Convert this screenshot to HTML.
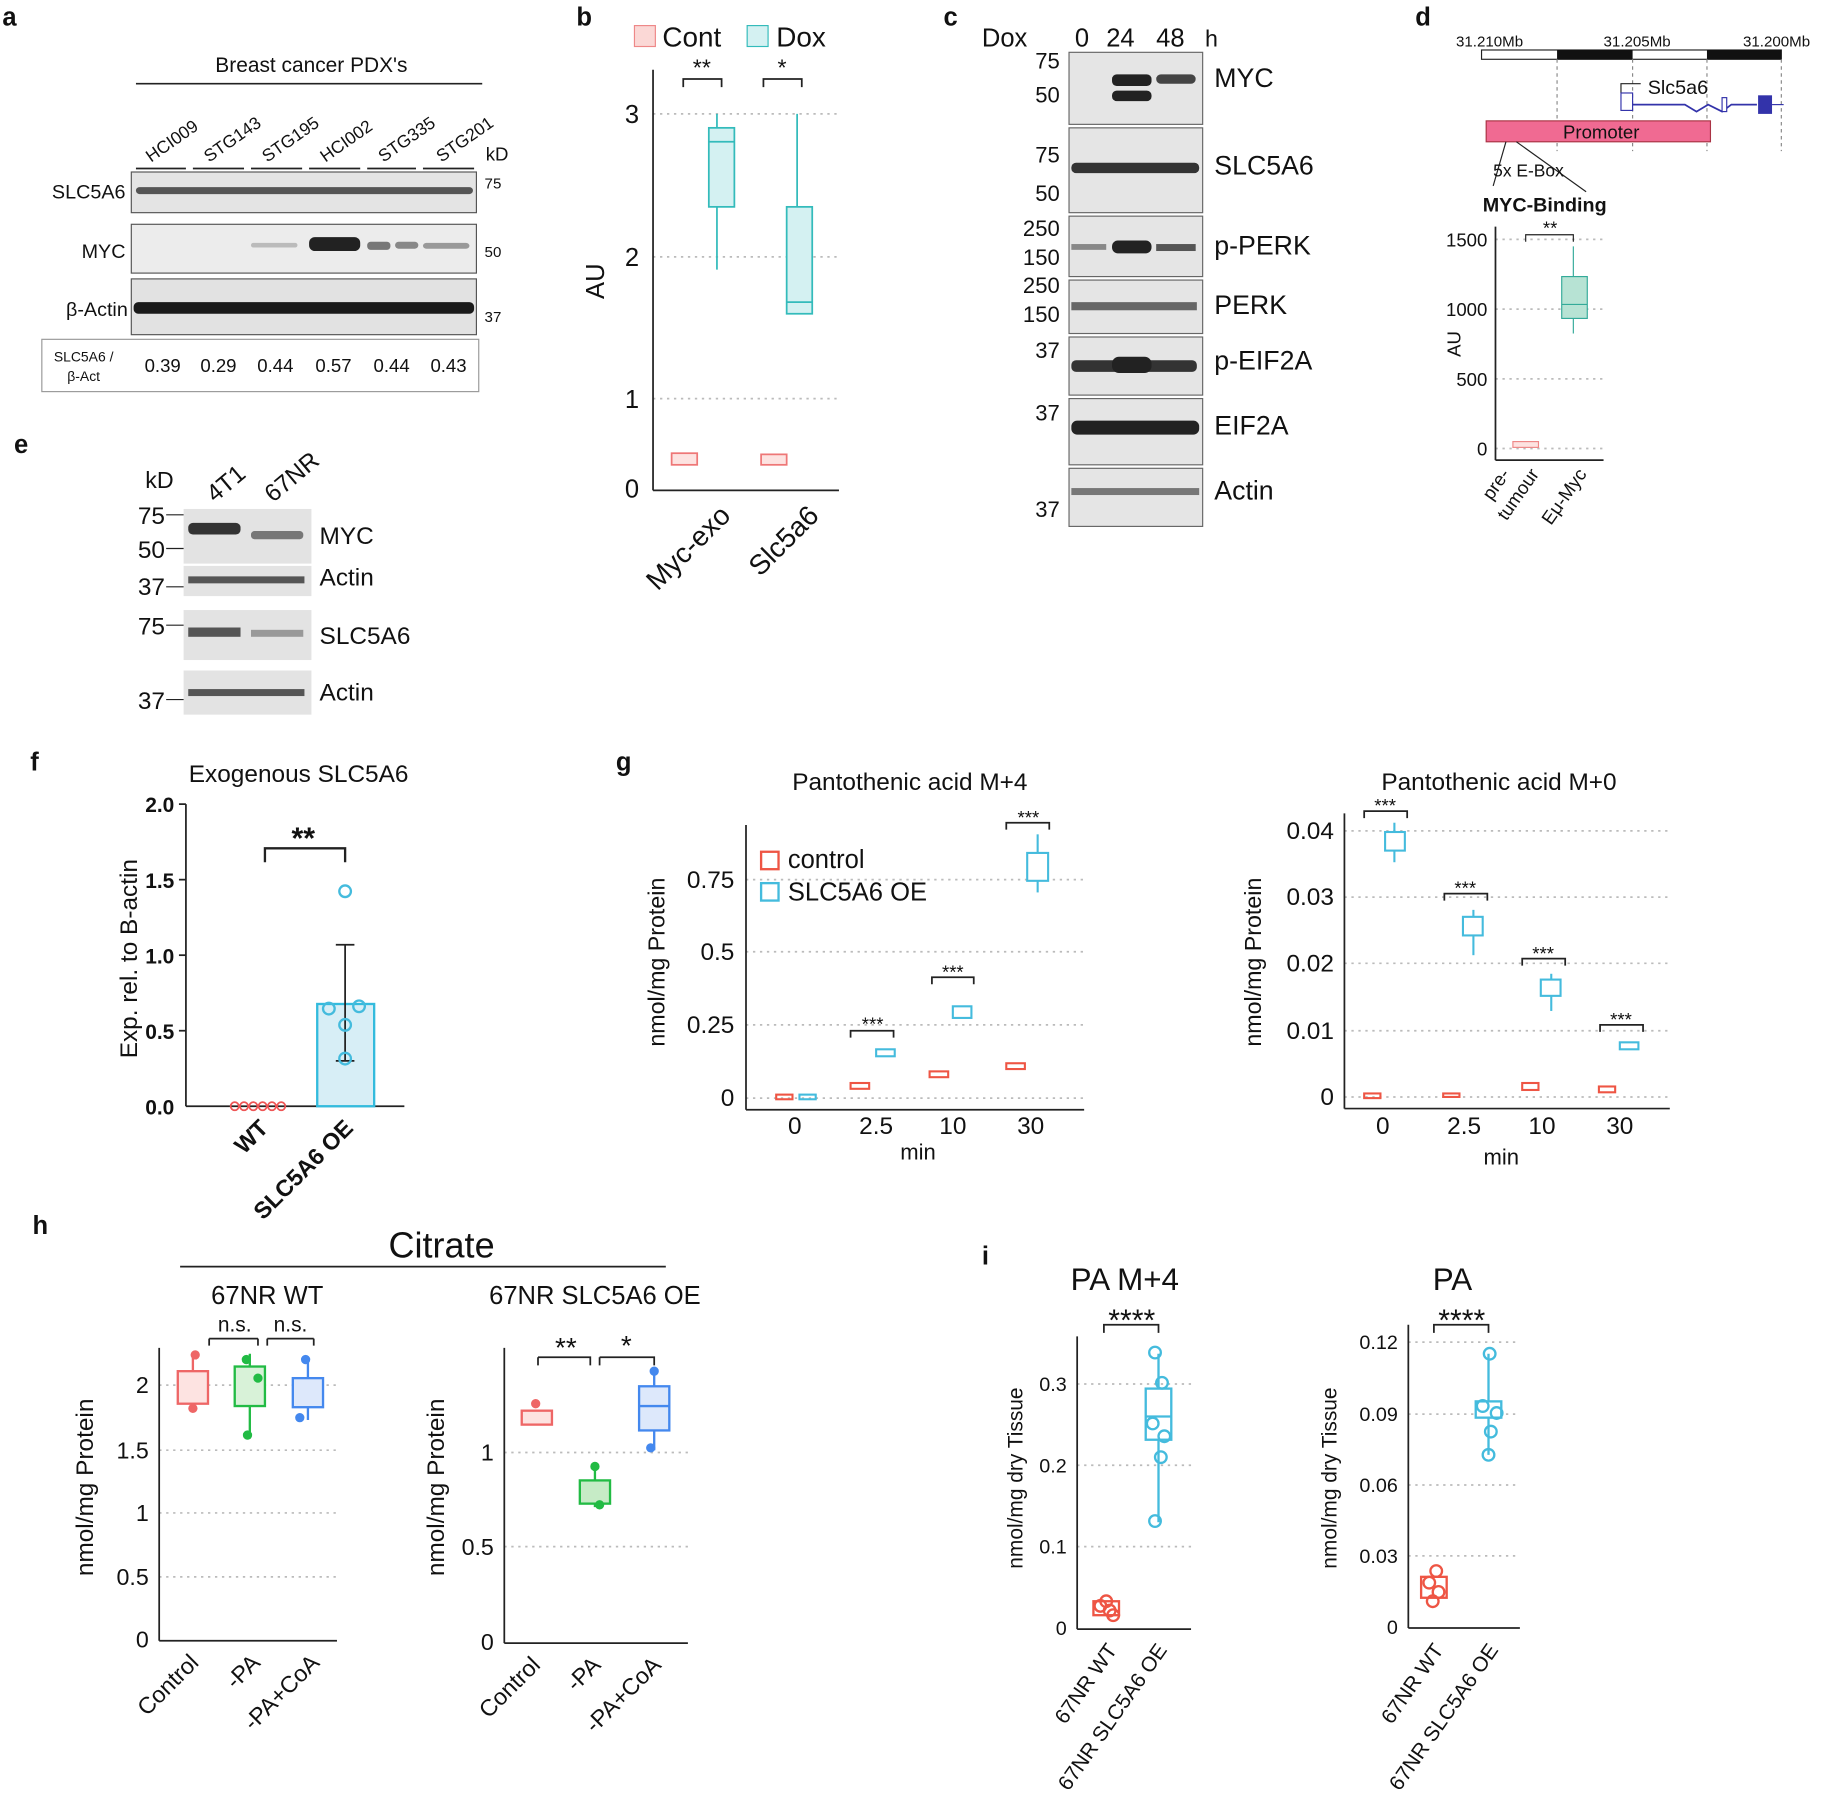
<!DOCTYPE html>
<html><head><meta charset="utf-8"><style>
html,body{margin:0;padding:0;background:#fff}
svg{display:block}
text{font-family:"Liberation Sans",sans-serif;fill:#111}
.g{stroke:#bbb;stroke-dasharray:2 4;stroke-width:1.5}
.ax{stroke:#222;stroke-width:1.5;fill:none}
</style></head><body>
<svg width="1822" height="1793" viewBox="0 0 1568 1543" xmlns="http://www.w3.org/2000/svg">
<defs>
<linearGradient id="bl" x1="0" y1="0" x2="0" y2="1"><stop offset="0" stop-color="#e6e6e6"/><stop offset="1" stop-color="#d8d8d8"/></linearGradient>
</defs>
<g font-weight="bold" font-size="22">
<text x="2" y="22">a</text><text x="496" y="22">b</text><text x="812" y="22">c</text><text x="1218" y="22">d</text>
<text x="12" y="390">e</text><text x="26" y="663">f</text><text x="530" y="663">g</text><text x="28" y="1062">h</text><text x="845" y="1088">i</text>
</g>
<!-- a -->
<text x="268" y="62" font-size="18" text-anchor="middle">Breast cancer PDX's</text>
<line x1="117" y1="72" x2="415" y2="72" class="ax"/>
<g font-size="15">
<text transform="translate(130,140) rotate(-35)">HCI009</text><text transform="translate(180,140) rotate(-35)">STG143</text>
<text transform="translate(230,140) rotate(-35)">STG195</text><text transform="translate(280,140) rotate(-35)">HCI002</text>
<text transform="translate(330,140) rotate(-35)">STG335</text><text transform="translate(380,140) rotate(-35)">STG201</text>
</g>
<g stroke="#222" stroke-width="1.5"><line x1="117" y1="145" x2="160" y2="145"/><line x1="166" y1="145" x2="210" y2="145"/><line x1="216" y1="145" x2="260" y2="145"/><line x1="266" y1="145" x2="310" y2="145"/><line x1="316" y1="145" x2="358" y2="145"/><line x1="364" y1="145" x2="408" y2="145"/></g>
<text x="418" y="138" font-size="16">kD</text>
<rect x="113" y="148" width="297" height="35" fill="#e4e4e4" stroke="#555"/>
<rect x="113" y="193" width="297" height="42" fill="#ececec" stroke="#555"/>
<rect x="113" y="240" width="297" height="48" fill="#e2e2e2" stroke="#555"/>
<g fill="#555"><rect x="117" y="161" width="290" height="6" rx="3"/></g>
<g fill="#222"><rect x="266" y="204" width="44" height="12" rx="5"/><rect x="316" y="208" width="20" height="7" rx="3" fill="#777"/><rect x="340" y="208" width="20" height="6" rx="3" fill="#888"/><rect x="364" y="209" width="40" height="5" rx="3" fill="#999"/><rect x="216" y="209" width="40" height="4" rx="2" fill="#bbb"/></g>
<rect x="115" y="260" width="293" height="10" rx="4" fill="#1a1a1a"/>
<g font-size="17" text-anchor="end"><text x="108" y="171">SLC5A6</text><text x="108" y="222">MYC</text><text x="110" y="272">β-Actin</text></g>
<g font-size="13"><text x="417" y="162">75</text><text x="417" y="221">50</text><text x="417" y="277">37</text></g>
<rect x="36" y="292" width="376" height="45" fill="none" stroke="#999"/>
<text x="72" y="311" font-size="12" text-anchor="middle">SLC5A6 /</text><text x="72" y="328" font-size="12" text-anchor="middle">β-Act</text>
<g font-size="16" text-anchor="middle"><text x="140" y="320">0.39</text><text x="188" y="320">0.29</text><text x="237" y="320">0.44</text><text x="287" y="320">0.57</text><text x="337" y="320">0.44</text><text x="386" y="320">0.43</text></g>
<!-- b -->
<rect x="546" y="22" width="18" height="18" fill="#fbd8d6" stroke="#e88"/><text x="570" y="40" font-size="24">Cont</text>
<rect x="643" y="22" width="18" height="18" fill="#d4f1f2" stroke="#3bb"/><text x="668" y="40" font-size="24">Dox</text>
<g class="g"><line x1="562" y1="98" x2="722" y2="98"/><line x1="562" y1="221" x2="722" y2="221"/><line x1="562" y1="343" x2="722" y2="343"/></g>
<line x1="562" y1="60" x2="562" y2="422" class="ax"/><line x1="562" y1="422" x2="722" y2="422" class="ax"/>
<g font-size="22" text-anchor="end"><text x="550" y="106">3</text><text x="550" y="229">2</text><text x="550" y="351">1</text><text x="550" y="428">0</text></g>
<text transform="translate(520,242) rotate(-90)" font-size="22" text-anchor="middle">AU</text>
<g stroke="#e77" fill="#fde3e1" stroke-width="1.5"><rect x="578" y="390" width="22" height="10"/><rect x="655" y="391" width="22" height="9"/></g>
<g stroke="#3bb" fill="#d4f1f2" stroke-width="1.5"><line x1="617" y1="98" x2="617" y2="232"/><rect x="610" y="110" width="22" height="68"/><line x1="610" y1="122" x2="632" y2="122"/>
<line x1="686" y1="98" x2="686" y2="270"/><rect x="677" y="178" width="22" height="92"/><line x1="677" y1="260" x2="699" y2="260"/></g>
<g stroke="#222" stroke-width="1.5" fill="none"><path d="M588 75V68H621V75"/><path d="M657 75V68H690V75"/></g>
<text x="604" y="65" font-size="20" text-anchor="middle">**</text><text x="673" y="65" font-size="20" text-anchor="middle">*</text>
<g font-size="24" text-anchor="end"><text transform="translate(630,445) rotate(-45)">Myc-exo</text><text transform="translate(706,445) rotate(-45)">Slc5a6</text></g>
<!-- c -->
<text x="845" y="40" font-size="22">Dox</text><text x="925" y="40" font-size="22">0</text><text x="952" y="40" font-size="22">24</text><text x="995" y="40" font-size="22">48</text><text x="1037" y="40" font-size="20">h</text>
<g fill="#e5e5e5" stroke="#666">
<rect x="920" y="45" width="115" height="62"/><rect x="920" y="110" width="115" height="73"/><rect x="920" y="186" width="115" height="52"/><rect x="920" y="241" width="115" height="46"/><rect x="920" y="290" width="115" height="50"/><rect x="920" y="343" width="115" height="57"/><rect x="920" y="403" width="115" height="50"/></g>
<g fill="#222"><rect x="957" y="64" width="34" height="10" rx="4"/><rect x="957" y="78" width="34" height="9" rx="4"/><rect x="995" y="64" width="34" height="8" rx="4" fill="#444"/>
<rect x="922" y="140" width="110" height="9" rx="4" fill="#333"/><rect x="957" y="207" width="34" height="11" rx="5"/><rect x="922" y="210" width="30" height="5" fill="#888"/><rect x="995" y="210" width="34" height="6" fill="#555"/>
<rect x="922" y="260" width="108" height="7" fill="#666"/><rect x="922" y="310" width="108" height="10" rx="4" fill="#333"/><rect x="957" y="307" width="34" height="14" rx="6"/>
<rect x="922" y="362" width="110" height="12" rx="5"/><rect x="922" y="420" width="110" height="6" fill="#777"/></g>
<g font-size="19" text-anchor="end"><text x="912" y="59">75</text><text x="912" y="88">50</text><text x="912" y="140">75</text><text x="912" y="173">50</text><text x="912" y="203">250</text><text x="912" y="228">150</text><text x="912" y="252">250</text><text x="912" y="277">150</text><text x="912" y="308">37</text><text x="912" y="362">37</text><text x="912" y="445">37</text></g>
<g font-size="23"><text x="1045" y="75">MYC</text><text x="1045" y="150">SLC5A6</text><text x="1045" y="219">p-PERK</text><text x="1045" y="270">PERK</text><text x="1045" y="318">p-EIF2A</text><text x="1045" y="374">EIF2A</text><text x="1045" y="430">Actin</text></g>
<!-- d -->
<g font-size="13"><text x="1253" y="40">31.210Mb</text><text x="1380" y="40">31.205Mb</text><text x="1500" y="40">31.200Mb</text></g>
<rect x="1275" y="43" width="258" height="8" fill="#fff" stroke="#222"/><rect x="1340" y="43" width="65" height="8" fill="#111"/><rect x="1469" y="43" width="64" height="8" fill="#111"/>
<g stroke="#888" stroke-dasharray="3 3"><line x1="1340" y1="51" x2="1340" y2="130"/><line x1="1405" y1="51" x2="1405" y2="130"/><line x1="1469" y1="51" x2="1469" y2="130"/><line x1="1533" y1="51" x2="1533" y2="130"/></g>
<path d="M1395 80V72H1412" stroke="#222" fill="none"/><text x="1418" y="81" font-size="17">Slc5a6</text>
<rect x="1395" y="80" width="10" height="15" fill="#fff" stroke="#33a"/><path d="M1405 90L1450 90L1460 96L1470 90L1482 96L1490 90L1512 90" stroke="#33a" fill="none" stroke-width="1.5"/>
<rect x="1482" y="84" width="4" height="12" fill="#fff" stroke="#33a"/><rect x="1513" y="82" width="12" height="16" fill="#33a"/><line x1="1525" y1="90" x2="1535" y2="90" stroke="#33a"/>
<rect x="1279" y="104" width="193" height="18" fill="#f06a92" stroke="#a34"/><text x="1378" y="119" font-size="16" text-anchor="middle">Promoter</text>
<path d="M1296 122L1285 160M1305 122L1365 165" stroke="#222" fill="none"/>
<text x="1285" y="152" font-size="15">5x E-Box</text>
<text x="1276" y="182" font-size="17" font-weight="bold">MYC-Binding</text>
<g class="g"><line x1="1287" y1="206" x2="1380" y2="206"/><line x1="1287" y1="266" x2="1380" y2="266"/><line x1="1287" y1="326" x2="1380" y2="326"/><line x1="1287" y1="386" x2="1380" y2="386"/></g>
<line x1="1287" y1="195" x2="1287" y2="396" class="ax"/><line x1="1287" y1="396" x2="1380" y2="396" class="ax"/>
<g font-size="16" text-anchor="end"><text x="1280" y="212">1500</text><text x="1280" y="272">1000</text><text x="1280" y="332">500</text><text x="1280" y="392">0</text></g>
<text transform="translate(1257,296) rotate(-90)" font-size="16" text-anchor="middle">AU</text>
<rect x="1302" y="380" width="22" height="5" fill="#fde3e1" stroke="#e88"/>
<line x1="1354" y1="212" x2="1354" y2="287" stroke="#3a9"/><rect x="1344" y="238" width="22" height="36" fill="#b7e3d4" stroke="#3a9"/><line x1="1344" y1="262" x2="1366" y2="262" stroke="#3a9"/>
<path d="M1313 208V202H1354V208" stroke="#222" fill="none"/><text x="1334" y="202" font-size="16" text-anchor="middle">**</text>
<g font-size="16" text-anchor="end"><text transform="translate(1300,408) rotate(-55)">pre-</text><text transform="translate(1325,408) rotate(-55)">tumour</text><text transform="translate(1366,408) rotate(-55)">Eμ-Myc</text></g>
<!-- e -->
<text x="125" y="420" font-size="20">kD</text>
<text transform="translate(185,433) rotate(-40)" font-size="21">4T1</text><text transform="translate(235,433) rotate(-40)" font-size="21">67NR</text>
<g fill="#e3e3e3"><rect x="158" y="438" width="110" height="47"/><rect x="158" y="487" width="110" height="26"/><rect x="158" y="525" width="110" height="43"/><rect x="158" y="577" width="110" height="38"/></g>
<g fill="#333"><rect x="162" y="450" width="45" height="10" rx="4"/><rect x="216" y="457" width="45" height="7" rx="3" fill="#777"/><rect x="162" y="496" width="100" height="6" fill="#555"/><rect x="162" y="540" width="45" height="8" fill="#555"/><rect x="216" y="542" width="45" height="6" fill="#999"/><rect x="162" y="593" width="100" height="6" fill="#555"/></g>
<g font-size="21" text-anchor="end"><text x="142" y="451">75</text><text x="142" y="480">50</text><text x="142" y="512">37</text><text x="142" y="546">75</text><text x="142" y="610">37</text></g>
<g stroke="#222"><line x1="143" y1="443" x2="158" y2="443"/><line x1="143" y1="472" x2="158" y2="472"/><line x1="143" y1="505" x2="158" y2="505"/><line x1="143" y1="538" x2="158" y2="538"/><line x1="143" y1="602" x2="158" y2="602"/></g>
<g font-size="21"><text x="275" y="468">MYC</text><text x="275" y="504">Actin</text><text x="275" y="554">SLC5A6</text><text x="275" y="603">Actin</text></g>
<!-- f -->
<text x="257" y="673" font-size="21" text-anchor="middle">Exogenous SLC5A6</text>
<line x1="160" y1="692" x2="160" y2="952" class="ax"/><line x1="160" y1="952" x2="348" y2="952" class="ax"/>
<g stroke="#222" stroke-width="1.5"><line x1="154" y1="692" x2="160" y2="692"/><line x1="154" y1="757" x2="160" y2="757"/><line x1="154" y1="822" x2="160" y2="822"/><line x1="154" y1="887" x2="160" y2="887"/></g>
<g font-size="18" font-weight="bold" text-anchor="end"><text x="150" y="699">2.0</text><text x="150" y="764">1.5</text><text x="150" y="829">1.0</text><text x="150" y="894">0.5</text><text x="150" y="959">0.0</text></g>
<text transform="translate(118,825) rotate(-90)" font-size="21" text-anchor="middle">Exp. rel. to B-actin</text>
<rect x="273" y="864" width="49" height="88" fill="#d7eef6" stroke="#3bd" stroke-width="2"/>
<path d="M297 813V913M289 813H305M289 913H305" stroke="#222" stroke-width="1.5"/>
<g fill="none" stroke="#4bd" stroke-width="2"><circle cx="297" cy="767" r="5"/><circle cx="283" cy="868" r="5"/><circle cx="309" cy="866" r="5"/><circle cx="297" cy="882" r="5"/><circle cx="297" cy="911" r="5"/></g>
<g fill="none" stroke="#e55" stroke-width="1.5"><circle cx="202" cy="952" r="3.5"/><circle cx="210" cy="952" r="3.5"/><circle cx="218" cy="952" r="3.5"/><circle cx="226" cy="952" r="3.5"/><circle cx="234" cy="952" r="3.5"/><circle cx="242" cy="952" r="3.5"/></g>
<path d="M228 742V730H297V742" stroke="#222" stroke-width="2" fill="none"/><text x="261" y="730" font-size="26" font-weight="bold" text-anchor="middle">**</text>
<g font-size="20" font-weight="bold" text-anchor="end"><text transform="translate(232,972) rotate(-45)">WT</text><text transform="translate(305,972) rotate(-45)">SLC5A6 OE</text></g>
<!-- g left -->
<text x="783" y="680" font-size="21" text-anchor="middle">Pantothenic acid M+4</text>
<g class="g"><line x1="642" y1="757" x2="933" y2="757"/><line x1="642" y1="819" x2="933" y2="819"/><line x1="642" y1="882" x2="933" y2="882"/><line x1="642" y1="945" x2="933" y2="945"/></g>
<line x1="642" y1="710" x2="642" y2="955" class="ax"/><line x1="642" y1="955" x2="933" y2="955" class="ax"/>
<g font-size="21" text-anchor="end"><text x="632" y="764">0.75</text><text x="632" y="826">0.5</text><text x="632" y="889">0.25</text><text x="632" y="952">0</text></g>
<text transform="translate(572,828) rotate(-90)" font-size="20" text-anchor="middle">nmol/mg Protein</text>
<g font-size="21" text-anchor="middle"><text x="684" y="976">0</text><text x="754" y="976">2.5</text><text x="820" y="976">10</text><text x="887" y="976">30</text></g>
<text x="790" y="998" font-size="19" text-anchor="middle">min</text>
<rect x="655" y="733" width="15" height="15" fill="none" stroke="#e54" stroke-width="2"/><text x="678" y="747" font-size="22">control</text>
<rect x="655" y="760" width="15" height="15" fill="none" stroke="#4bd" stroke-width="2"/><text x="678" y="775" font-size="22">SLC5A6 OE</text>
<g fill="none" stroke="#e54" stroke-width="1.8"><rect x="668" y="942" width="14" height="4"/><rect x="732" y="932" width="16" height="5"/><rect x="800" y="922" width="16" height="5"/><rect x="866" y="915" width="16" height="5"/></g>
<g fill="none" stroke="#4bd" stroke-width="1.8"><rect x="688" y="942" width="14" height="4"/><rect x="754" y="903" width="16" height="6"/><rect x="820" y="866" width="16" height="10"/><line x1="893" y1="718" x2="893" y2="768"/><rect x="884" y="734" width="18" height="24" fill="#fff"/></g>
<g stroke="#222" stroke-width="1.5" fill="none"><path d="M732 893V887H769V893"/><path d="M802 847V841H838V847"/><path d="M866 714V708H903V714"/></g>
<g font-size="16" text-anchor="middle"><text x="751" y="887">***</text><text x="820" y="842">***</text><text x="885" y="709">***</text></g>
<!-- g right -->
<text x="1290" y="680" font-size="21" text-anchor="middle">Pantothenic acid M+0</text>
<g class="g"><line x1="1157" y1="715" x2="1437" y2="715"/><line x1="1157" y1="772" x2="1437" y2="772"/><line x1="1157" y1="829" x2="1437" y2="829"/><line x1="1157" y1="887" x2="1437" y2="887"/><line x1="1157" y1="944" x2="1437" y2="944"/></g>
<line x1="1157" y1="700" x2="1157" y2="954" class="ax"/><line x1="1157" y1="954" x2="1437" y2="954" class="ax"/>
<g font-size="21" text-anchor="end"><text x="1148" y="722">0.04</text><text x="1148" y="779">0.03</text><text x="1148" y="836">0.02</text><text x="1148" y="894">0.01</text><text x="1148" y="951">0</text></g>
<text transform="translate(1085,828) rotate(-90)" font-size="20" text-anchor="middle">nmol/mg Protein</text>
<g font-size="21" text-anchor="middle"><text x="1190" y="976">0</text><text x="1260" y="976">2.5</text><text x="1327" y="976">10</text><text x="1394" y="976">30</text></g>
<text x="1292" y="1002" font-size="19" text-anchor="middle">min</text>
<g fill="none" stroke="#e54" stroke-width="1.8"><rect x="1174" y="941" width="14" height="4"/><rect x="1242" y="941" width="14" height="3"/><rect x="1310" y="932" width="14" height="6"/><rect x="1376" y="935" width="14" height="5"/></g>
<g fill="none" stroke="#4bd" stroke-width="1.8"><line x1="1200" y1="708" x2="1200" y2="742"/><rect x="1192" y="716" width="17" height="16" fill="#fff"/><line x1="1268" y1="783" x2="1268" y2="822"/><rect x="1259" y="789" width="17" height="16" fill="#fff"/><line x1="1335" y1="838" x2="1335" y2="870"/><rect x="1326" y="843" width="17" height="14" fill="#fff"/><rect x="1394" y="897" width="16" height="6"/></g>
<g stroke="#222" stroke-width="1.5" fill="none"><path d="M1174 704V698H1211V704"/><path d="M1243 775V769H1280V775"/><path d="M1310 831V825H1347V831"/><path d="M1377 888V882H1414V888"/></g>
<g font-size="16" text-anchor="middle"><text x="1192" y="699">***</text><text x="1261" y="770">***</text><text x="1328" y="826">***</text><text x="1395" y="883">***</text></g>
<!-- h -->
<text x="380" y="1082" font-size="31" text-anchor="middle">Citrate</text>
<line x1="155" y1="1090" x2="573" y2="1090" class="ax"/>
<text x="230" y="1122" font-size="22" text-anchor="middle">67NR WT</text>
<text x="512" y="1122" font-size="22" text-anchor="middle">67NR SLC5A6 OE</text>
<g class="g"><line x1="137" y1="1192" x2="290" y2="1192"/><line x1="137" y1="1248" x2="290" y2="1248"/><line x1="137" y1="1302" x2="290" y2="1302"/><line x1="137" y1="1357" x2="290" y2="1357"/>
<line x1="434" y1="1250" x2="592" y2="1250"/><line x1="434" y1="1331" x2="592" y2="1331"/></g>
<line x1="137" y1="1160" x2="137" y2="1412" class="ax"/><line x1="137" y1="1412" x2="290" y2="1412" class="ax"/>
<line x1="434" y1="1160" x2="434" y2="1414" class="ax"/><line x1="434" y1="1414" x2="592" y2="1414" class="ax"/>
<g font-size="20" text-anchor="end"><text x="128" y="1199">2</text><text x="128" y="1255">1.5</text><text x="128" y="1309">1</text><text x="128" y="1364">0.5</text><text x="128" y="1418">0</text>
<text x="425" y="1257">1</text><text x="425" y="1338">0.5</text><text x="425" y="1420">0</text></g>
<text transform="translate(80,1280) rotate(-90)" font-size="21" text-anchor="middle">nmol/mg Protein</text>
<text transform="translate(382,1280) rotate(-90)" font-size="21" text-anchor="middle">nmol/mg Protein</text>
<g stroke-width="2">
<g stroke="#e66" fill="#fde3e1"><line x1="166" y1="1165" x2="166" y2="1215"/><rect x="153" y="1180" width="26" height="28"/><circle cx="168" cy="1166" r="3" fill="#e66"/><circle cx="166" cy="1212" r="3" fill="#e66"/></g>
<g stroke="#2b4" fill="#d8f2d8"><line x1="215" y1="1165" x2="215" y2="1238"/><rect x="202" y="1176" width="26" height="34"/><circle cx="212" cy="1170" r="3" fill="#2b4"/><circle cx="222" cy="1186" r="3" fill="#2b4"/><circle cx="213" cy="1235" r="3" fill="#2b4"/></g>
<g stroke="#48e" fill="#dde8fb"><line x1="265" y1="1168" x2="265" y2="1222"/><rect x="252" y="1186" width="26" height="25"/><circle cx="263" cy="1170" r="3" fill="#48e"/><circle cx="258" cy="1220" r="3" fill="#48e"/></g>
<g stroke="#e66" fill="#fde3e1"><rect x="449" y="1214" width="26" height="12"/><circle cx="461" cy="1208" r="3" fill="#e66"/></g>
<g stroke="#2b4" fill="#c6ebc6"><line x1="512" y1="1260" x2="512" y2="1297"/><rect x="499" y="1274" width="26" height="20"/><circle cx="512" cy="1262" r="3" fill="#2b4"/><circle cx="516" cy="1295" r="3" fill="#2b4"/></g>
<g stroke="#48e" fill="#dde8fb"><line x1="563" y1="1180" x2="563" y2="1248"/><rect x="550" y="1193" width="26" height="38"/><line x1="550" y1="1210" x2="576" y2="1210"/><circle cx="563" cy="1180" r="3" fill="#48e"/><circle cx="560" cy="1246" r="3" fill="#48e"/></g>
</g>
<g stroke="#222" stroke-width="1.5" fill="none"><path d="M180 1152H222M230 1152H270M180 1152V1158M222 1152V1158M230 1152V1158M270 1152V1158"/><path d="M463 1168H508V1175M463 1168V1175M516 1168H563V1175M516 1168V1175"/></g>
<g font-size="18" text-anchor="middle"><text x="202" y="1146">n.s.</text><text x="250" y="1146">n.s.</text></g>
<g font-size="24" text-anchor="middle"><text x="487" y="1168">**</text><text x="539" y="1166">*</text></g>
<g font-size="20" text-anchor="end"><text transform="translate(172,1432) rotate(-45)">Control</text><text transform="translate(225,1432) rotate(-45)">-PA</text><text transform="translate(276,1432) rotate(-45)">-PA+CoA</text>
<text transform="translate(466,1434) rotate(-45)">Control</text><text transform="translate(518,1434) rotate(-45)">-PA</text><text transform="translate(570,1434) rotate(-45)">-PA+CoA</text></g>
<!-- i -->
<text x="968" y="1110" font-size="27" text-anchor="middle">PA M+4</text><text x="1250" y="1110" font-size="27" text-anchor="middle">PA</text>
<g class="g"><line x1="927" y1="1191" x2="1025" y2="1191"/><line x1="927" y1="1261" x2="1025" y2="1261"/><line x1="927" y1="1331" x2="1025" y2="1331"/>
<line x1="1212" y1="1155" x2="1308" y2="1155"/><line x1="1212" y1="1217" x2="1308" y2="1217"/><line x1="1212" y1="1278" x2="1308" y2="1278"/><line x1="1212" y1="1339" x2="1308" y2="1339"/></g>
<line x1="927" y1="1150" x2="927" y2="1402" class="ax"/><line x1="927" y1="1402" x2="1025" y2="1402" class="ax"/>
<line x1="1212" y1="1140" x2="1212" y2="1401" class="ax"/><line x1="1212" y1="1401" x2="1308" y2="1401" class="ax"/>
<g font-size="17" text-anchor="end"><text x="918" y="1197">0.3</text><text x="918" y="1267">0.2</text><text x="918" y="1337">0.1</text><text x="918" y="1407">0</text>
<text x="1203" y="1161">0.12</text><text x="1203" y="1223">0.09</text><text x="1203" y="1284">0.06</text><text x="1203" y="1345">0.03</text><text x="1203" y="1406">0</text></g>
<text transform="translate(880,1272) rotate(-90)" font-size="18" text-anchor="middle">nmol/mg dry Tissue</text>
<text transform="translate(1150,1272) rotate(-90)" font-size="18" text-anchor="middle">nmol/mg dry Tissue</text>
<g stroke-width="2" fill="none">
<g stroke="#e54"><rect x="941" y="1378" width="22" height="12"/><circle cx="947" cy="1382" r="5"/><circle cx="955" cy="1386" r="5"/><circle cx="952" cy="1378" r="5"/><circle cx="958" cy="1390" r="5"/>
<rect x="1223" y="1357" width="22" height="18"/><circle cx="1230" cy="1362" r="5"/><circle cx="1238" cy="1370" r="5"/><circle cx="1233" cy="1378" r="5"/><circle cx="1236" cy="1352" r="5"/></g>
<g stroke="#4bd"><line x1="997" y1="1165" x2="997" y2="1310"/><rect x="986" y="1195" width="22" height="44" fill="#fff"/><line x1="986" y1="1219" x2="1008" y2="1219"/><circle cx="994" cy="1164" r="5"/><circle cx="1000" cy="1190" r="5"/><circle cx="992" cy="1225" r="5"/><circle cx="1002" cy="1236" r="5"/><circle cx="999" cy="1254" r="5"/><circle cx="994" cy="1309" r="5"/>
<line x1="1281" y1="1165" x2="1281" y2="1252"/><rect x="1270" y="1206" width="22" height="14" fill="#fff"/><circle cx="1282" cy="1165" r="5"/><circle cx="1276" cy="1210" r="5"/><circle cx="1288" cy="1216" r="5"/><circle cx="1283" cy="1232" r="5"/><circle cx="1281" cy="1252" r="5"/></g>
</g>
<g stroke="#222" stroke-width="1.5" fill="none"><path d="M950 1147V1140H997V1147"/><path d="M1234 1147V1140H1281V1147"/></g>
<g font-size="26" text-anchor="middle"><text x="974" y="1145">****</text><text x="1258" y="1145">****</text></g>
<g font-size="18" text-anchor="end"><text transform="translate(962,1420) rotate(-55)">67NR WT</text><text transform="translate(1005,1420) rotate(-55)">67NR SLC5A6 OE</text>
<text transform="translate(1243,1420) rotate(-55)">67NR WT</text><text transform="translate(1290,1420) rotate(-55)">67NR SLC5A6 OE</text></g>
</svg>
</body></html>
